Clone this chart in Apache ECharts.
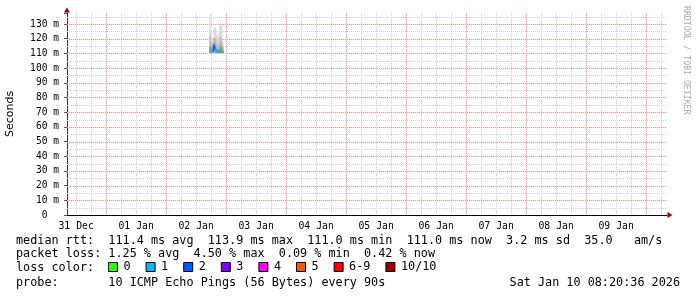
<!DOCTYPE html>
<html><head><meta charset="utf-8">
<script src="https://cdn.jsdelivr.net/npm/echarts@6.0.0/dist/echarts.min.js"></script>
<style>html,body{margin:0;padding:0;background:#fff}#c{width:697px;height:297px}</style>
</head><body><div id="c"></div>
<script>
// ---- data ----
const startTime = '2025-12-31T08:20:36Z';
const endTime = '2026-01-10T08:20:36Z';
const dayLabels = ['31 Dec','01 Jan','02 Jan','03 Jan','04 Jan','05 Jan','06 Jan','07 Jan','08 Jan','09 Jan'];
const dayLabelTimes = ['2025-12-31T12:00:00Z','2026-01-01T12:00:00Z','2026-01-02T12:00:00Z','2026-01-03T12:00:00Z','2026-01-04T12:00:00Z','2026-01-05T12:00:00Z','2026-01-06T12:00:00Z','2026-01-07T12:00:00Z','2026-01-08T12:00:00Z','2026-01-09T12:00:00Z'];
const yTickValues = [0,10,20,30,40,50,60,70,80,90,100,110,120,130];
const yTickLabels = ['0  ','10 m','20 m','30 m','40 m','50 m','60 m','70 m','80 m','90 m','100 m','110 m','120 m','130 m'];
const sampleTimes = ['2026-01-02T17:32:00Z','2026-01-02T17:56:00Z','2026-01-02T18:20:00Z','2026-01-02T18:44:00Z','2026-01-02T19:08:00Z','2026-01-02T19:32:00Z','2026-01-02T19:56:00Z','2026-01-02T20:20:00Z','2026-01-02T20:44:00Z','2026-01-02T21:08:00Z','2026-01-02T21:32:00Z','2026-01-02T21:56:00Z','2026-01-02T22:20:00Z','2026-01-02T22:44:00Z'];
const smokeMin = [110.4,110.5,110.4,110.6,110.8,110.7,110.5,110.4,110.5,110.4,110.5,110.6,110.4,110.5];
const smokeMax = [137,126,119,121,127,128,127,123,121,124,130,131,130,118];
const smokeHi2 = [122,118,116,117,120,121,119,116,115,117,120,121,118,114];
const smokeHi3 = [115,114,113,114,117,117,114,113,112.5,113,114,115,114,112];
const medianRtt = [111.2,111.0,111.1,111.4,115.2,113.6,111.5,111.2,111.0,111.1,111.3,111.2,111.0,111.0];
const lossCount = [1,1,1,1,2,2,1,1,1,1,1,1,1,1];
const lossBins = ['0','1','2','3','4','5','6-9','10/10'];
const lossColors = ['#26ff00','#00b8ff','#0059ff','#7e00ff','#ff00ff','#ff5500','#ff0000','#a10000'];
const statsLine1 = 'median rtt:  111.4 ms avg  113.9 ms max  111.0 ms min  111.0 ms now  3.2 ms sd  35.0   am/s';
const statsLine2 = 'packet loss: 1.25 % avg  4.50 % max  0.09 % min  0.42 % now';
const legendLabel = 'loss color:';
const probeLine = 'probe:       10 ICMP Echo Pings (56 Bytes) every 90s';
const dateLine = 'Sat Jan 10 08:20:36 2026';
const watermark = 'RRDTOOL / TOBI OETIKER';

// ---- build ----
const T = s => Date.parse(s);
const X0 = T(startTime), X1 = T(endTime);
const YMAX = 137.5;
const HALF = 12 * 60 * 1000;
const HOUR = 3600 * 1000;
const noonTs = dayLabelTimes.map(T);
const mono = '"DejaVu Sans Mono"';
const MINOR = '#d0d0d0', MAJOR_BASE = '#fbe2e2', MAJOR_DOT = '#f29494';

function lossBin(n){ return n <= 5 ? n : (n < 10 ? 6 : 7); }

function bandRender(color){
  return function(params, api){
    const t = api.value(0), lo = api.value(1), hi = api.value(2);
    const p1 = api.coord([t - HALF, hi]);
    const p2 = api.coord([t + HALF, lo]);
    return {type:'rect', shape:{x:p1[0], y:p1[1], width:p2[0]-p1[0], height:p2[1]-p1[1]}, style:{fill:color}};
  };
}
function bandSeries(name, hiArr, color, z){
  return {type:'custom', name:name, z:z, silent:true, renderItem:bandRender(color),
    encode:{x:0, y:[1,2]},
    data: sampleTimes.map((s,i)=>[T(s), smokeMin[i], hiArr[i]])};
}
function medianSeries(bi){
  const data = [];
  sampleTimes.forEach((s,i)=>{
    if (lossBin(lossCount[i]) === bi) data.push([T(s), medianRtt[i], i>0 ? medianRtt[i-1] : medianRtt[i]]);
  });
  return {type:'custom', name:lossBins[bi], z:10, silent:true, itemStyle:{color:lossColors[bi]},
    encode:{x:0, y:1},
    renderItem:function(params, api){
      const t = api.value(0), m = api.value(1), pm = api.value(2);
      const a = api.coord([t - HALF, m]), b = api.coord([t + HALF, m]), c = api.coord([t - HALF, pm]);
      return {type:'group', children:[
        {type:'line', shape:{x1:a[0], y1:a[1], x2:b[0], y2:b[1]}, style:{stroke:lossColors[bi], lineWidth:2}},
        {type:'line', shape:{x1:c[0], y1:c[1], x2:a[0], y2:a[1]}, style:{stroke:lossColors[bi], lineWidth:1.5}}
      ]};
    },
    data:data};
}

// grid lines (drawn through the axes' scales, snapped to pixels)
const vMinor = [], vMajor = [], hMinor = [], hMajor = [];
const DAY0 = T('2025-12-31T00:00:00Z');
for (let t = DAY0; t <= X1; t += 6*HOUR){
  if (t <= X0) continue;
  (((t - DAY0) / HOUR) % 24 === 0 ? vMajor : vMinor).push([t]);
}
for (let v = 5; v < YMAX; v += 5) (v % 10 === 0 ? hMajor : hMinor).push([v]);

function lineEls(x1, y1, x2, y2, major){
  if (!major) return {type:'line', shape:{x1, y1, x2, y2}, style:{stroke:MINOR, fill:null, lineWidth:1, lineDash:[1,1]}};
  return {type:'group', children:[
    {type:'line', shape:{x1, y1, x2, y2}, style:{stroke:MAJOR_BASE, fill:null, lineWidth:1}},
    {type:'line', shape:{x1, y1, x2, y2}, style:{stroke:MAJOR_DOT, fill:null, lineWidth:1, lineDash:[1,1]}}
  ]};
}
function gridVSeries(data, major, z){
  return {type:'custom', z:z, silent:true, encode:{x:0},
    renderItem:function(params, api){
      const cs = params.coordSys;
      const x = Math.round(api.coord([api.value(0), 0])[0]) + 0.5;
      return lineEls(x, cs.y, x, cs.y + cs.height, major);
    }, data:data};
}
function gridHSeries(data, major, z){
  return {type:'custom', z:z, silent:true, encode:{y:0},
    renderItem:function(params, api){
      const cs = params.coordSys;
      const y = Math.round(api.coord([X0, api.value(0)])[1]) + 0.5;
      return lineEls(cs.x, y, cs.x + cs.width, y, major);
    }, data:data};
}

const series = [
  gridVSeries(vMinor, false, 1), gridHSeries(hMinor, false, 1),
  gridVSeries(vMajor, true, 2), gridHSeries(hMajor, true, 2),
  bandSeries('smoke1', smokeMax, '#d0d0d0', 3),
  bandSeries('smoke2', smokeHi2, '#b0b0b0', 4),
  bandSeries('smoke3', smokeHi3, '#8a8a8a', 5)
];
for (let b = 0; b < lossBins.length; b++) series.push(medianSeries(b));

const chart = echarts.init(document.getElementById('c'), null, {renderer:'canvas'});
chart.setOption({
  animation:false,
  backgroundColor:'#fff',
  grid:{left:67, right:30, top:13, bottom:82, containLabel:false, outerBoundsMode:'none'},
  xAxis:[{
    type:'value', min:X0, max:X1,
    axisLine:{show:true, onZero:false, lineStyle:{color:'#000', width:1}},
    axisTick:{show:false},
    splitLine:{show:false},
    axisLabel:{customValues:noonTs, margin:6, fontFamily:'DejaVu Sans Mono', fontSize:9.8, color:'#000',
      formatter:v=>{const i = noonTs.indexOf(v); return i>=0 ? dayLabels[i] : '';}}
  },{
    type:'value', min:X0, max:X1, position:'bottom',
    axisLine:{show:true, onZero:false, symbol:['none','triangle'], symbolSize:[6,5], symbolOffset:[0,3], lineStyle:{color:'#a00000', width:0}},
    axisTick:{show:false}, axisLabel:{show:false}, splitLine:{show:false}
  }],
  yAxis:[{
    type:'value', min:0, max:YMAX, interval:10,
    axisLine:{show:true, onZero:false, lineStyle:{color:'#333', width:1}},
    axisTick:{show:true, length:3, lineStyle:{color:'#555'}},
    splitLine:{show:false},
    axisLabel:{margin:8, fontFamily:'DejaVu Sans Mono', fontSize:9.6, color:'#000',
      formatter:v=>{const i = yTickValues.indexOf(v); return i>=0 ? yTickLabels[i] : '';}},
    name:'Seconds', nameLocation:'middle', nameGap:51, nameRotate:90,
    nameTextStyle:{fontFamily:'DejaVu Sans', fontSize:11, color:'#000'}
  },{
    type:'value', min:0, max:YMAX, position:'left',
    axisLine:{show:true, onZero:false, symbol:['none','triangle'], symbolSize:[6,5], symbolOffset:[0,3], lineStyle:{color:'#a00000', width:0}},
    axisTick:{show:false}, axisLabel:{show:false}, splitLine:{show:false}
  }],
  legend:{data:lossBins, left:108, top:261, padding:0, icon:'rect', itemWidth:9, itemHeight:9, itemGap:15,
    selectedMode:false, itemStyle:{borderColor:'#000', borderWidth:1},
    textStyle:{fontFamily:'DejaVu Sans Mono', fontSize:11.8, color:'#000', padding:[0,0,0,1]}},
  graphic:[
    {type:'text', x:16, y:241, silent:true, style:{text:statsLine1, font:'11.8px '+mono, fill:'#000', verticalAlign:'middle'}},
    {type:'text', x:16, y:254, silent:true, style:{text:statsLine2, font:'11.8px '+mono, fill:'#000', verticalAlign:'middle'}},
    {type:'text', x:16, y:268, silent:true, style:{text:legendLabel, font:'11.8px '+mono, fill:'#000', verticalAlign:'middle'}},
    {type:'text', x:16, y:283, silent:true, style:{text:probeLine, font:'11.8px '+mono, fill:'#000', verticalAlign:'middle'}},
    {type:'text', x:680, y:283, silent:true, style:{text:dateLine, font:'11.8px '+mono, fill:'#000', align:'right', verticalAlign:'middle'}},
    {type:'text', x:686, y:6, rotation:-Math.PI/2, silent:true, style:{text:watermark, font:'8.2px '+mono, fill:'#aaaaaa', align:'left', verticalAlign:'middle'}}
  ],
  series:series
});
</script></body></html>
